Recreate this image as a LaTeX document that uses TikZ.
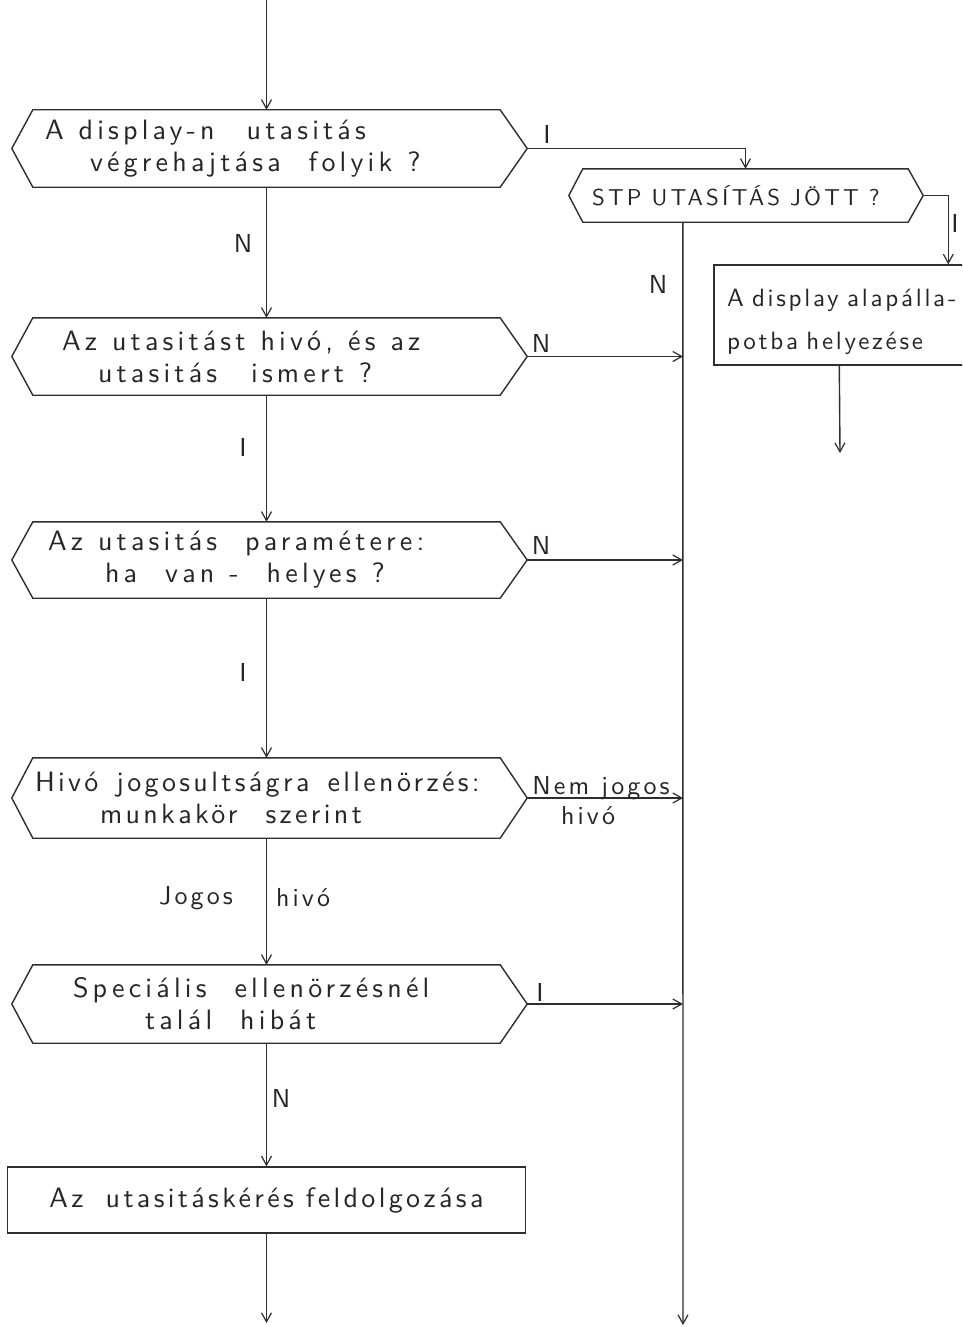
\documentclass[tikz,border=0pt]{standalone}
\usepackage{fontspec}
\usetikzlibrary{arrows.meta,calc}
\newfontfamily\hand{lmsans10-regular.otf}[LetterSpace=15]
\newfontfamily\handtight{lmsans10-regular.otf}[LetterSpace=12]
\newfontfamily\handsmall{lmsans10-regular.otf}[LetterSpace=11]
\newfontfamily\handcaps{lmsans10-regular.otf}[LetterSpace=14]
% type settings for the diagram texts
\newcommand\hexfont{\hand\fontsize{28}{32}\selectfont}
\newcommand\tightfont{\handtight\fontsize{28}{32}\selectfont}
\newcommand\labelfont{\handtight\fontsize{26}{28}\selectfont}
\newcommand\capsfont{\handcaps\fontsize{23}{26}\selectfont}
\newcommand\notefont{\handsmall\fontsize{25}{43}\selectfont}
% word spaces of the lettering
\newcommand\ws{\hspace{15pt}}
\newcommand\gap{\hspace{28pt}}
% hexagonal decision frame around a rectangular node: name, left point, right point
\newcommand\hexframe[3]{%
  \draw[ink] (#1.north west) -- (#1.north east) -- ($(#1.east)+(#3,0)$)
    -- (#1.south east) -- (#1.south west) -- ($(#1.west)+(-#2,0)$) -- cycle;
  \coordinate (#1-l) at ($(#1.west)+(-#2,0)$);
  \coordinate (#1-r) at ($(#1.east)+(#3,0)$);}
\begin{document}
\begin{tikzpicture}[x=1pt,y=-1pt,
  ink/.style={draw=black!82, line width=1.4pt},
  flow/.style={ink, -{Straight Barb[length=9pt,width=10pt,line width=1.2pt]}},
  hexbox/.style={rectangle, inner sep=0pt, align=left, text=black!85, font=\hexfont},
  stpbox/.style={rectangle, inner sep=0pt, align=left, text=black!85, font=\capsfont},
  procbox/.style={ink, rectangle, inner sep=0pt, text=black!85},
  lbl/.style={inner sep=0pt, text=black!85, font=\labelfont},
]
\clip (0,0) rectangle (962,1327);
\fill[white] (0,0) rectangle (962,1327);

% decisions of the main column
\node[hexbox, minimum width=467, minimum height=77, text width=467] (h1) at (266.5,148.5)
  {\hspace*{12pt}A\ws display-n\hspace{32pt}utasitás\\\hspace*{57pt}végrehajtása\gap folyik\ws ?};
\node[hexbox, minimum width=467, minimum height=77, text width=467] (h3) at (266.5,356.5)
  {\hspace*{29pt}Az\ws utasitást\ws hivó,\ws és\ws az\\\hspace*{65pt}utasitás\hspace{34pt}ismert\ws ?};
\node[hexbox, minimum width=467, minimum height=76, text width=467] (h4) at (266.5,560)
  {\hspace*{15pt}Az\ws utasitás\gap paramétere:\\\hspace*{72pt}ha\gap van\ws -\gap helyes\ws ?};
\node[hexbox, minimum width=467, minimum height=80, text width=467, font=\tightfont] (h5) at (266.5,798)
  {\hspace*{2pt}Hivó\hspace{18pt}jogosultságra\hspace{18pt}ellenörzés:\\\hspace*{67pt}munkakör\gap szerint};
\node[hexbox, minimum width=467, minimum height=78, text width=467] (h6) at (266.5,1004)
  {\hspace*{40pt}Speciális\gap ellenörzésnél\\\hspace*{112pt}talál\gap hibát};
\hexframe{h1}{21}{27}
\hexframe{h3}{21}{27}
\hexframe{h4}{21}{27}
\hexframe{h5}{21}{27}
\hexframe{h6}{21}{27}

% STP branch
\node[stpbox, minimum width=325, minimum height=53, text width=325] (h2) at (745.5,195.5)
  {\hspace*{9pt}STP\hspace{10pt}UTASÍTÁS\hspace{10pt}JÖTT\hspace{10pt}?};
\hexframe{h2}{14}{15}
\node[procbox, minimum width=276, minimum height=100, text width=276, align=left,
  font=\notefont] (b3) at (852,315)
  {\hspace*{13pt}\rule{0pt}{32pt}A display alapálla-\\\hspace*{13pt}potba helyezése};

% final processing box
\node[procbox, minimum width=518, minimum height=66, align=center, font=\tightfont] (b7) at (266.5,1200)
  {Az\hspace{22pt}utasitáskérés\hspace{12pt}feldolgozása};

% free ends
\coordinate (top) at (266.5,0);
\coordinate (bottom) at (266.5,1323);
\coordinate (rail) at (683,1325);
\coordinate (b3-out) at (840,453);

% main column
\draw[flow] (top) -- (h1.north);
\draw[flow] (h1.south) -- (h3.north);
\draw[flow] (h3.south) -- (h4.north);
\draw[flow] (h4.south) -- (h5.north);
\draw[flow] (h5.south) -- (h6.north);
\draw[flow] (h6.south) -- (b7.north);
\draw[flow] (b7.south) -- (bottom);

% STP branch and the collecting rail
\draw[flow] (h1-r) -| (h2.north);
\draw[flow] (h2-r) -| ($(b3.north west)+(235,0)$);
\draw[flow] ($(h2.south west)+(100,0)$) -- (rail);
\draw[flow] ($(b3.south west)+(126,0)$) -- (b3-out);
\draw[flow] (h3-r) -- (h3-r -| rail);
\draw[flow] (h4-r) -- (h4-r -| rail);
\draw[flow] (h5-r) -- (h5-r -| rail);
\draw[flow] (h6-r) -- (h6-r -| rail);

% branch labels
\node[lbl] (l1) at (547,134) {I};
\node[lbl] (l2) at (955,223) {I};
\node[lbl] (l3) at (658,284) {N};
\node[lbl] (l4) at (243,243) {N};
\node[lbl] (l5) at (541,343) {N};
\node[lbl] (l6) at (243,447) {I};
\node[lbl] (l7) at (541,545) {N};
\node[lbl] (l8) at (243,672) {I};
\node[lbl, anchor=base] (l9) at (601,794) {Nem\hspace{12pt}jogos};
\node[lbl] (l10) at (588,816) {hivó};
\node[lbl] (l11) at (196,898) {Jogos};
\node[lbl] (l12) at (303,898) {hivó};
\node[lbl] (l13) at (540,992) {I};
\node[lbl] (l14) at (281,1098) {N};
\end{tikzpicture}
\end{document}
